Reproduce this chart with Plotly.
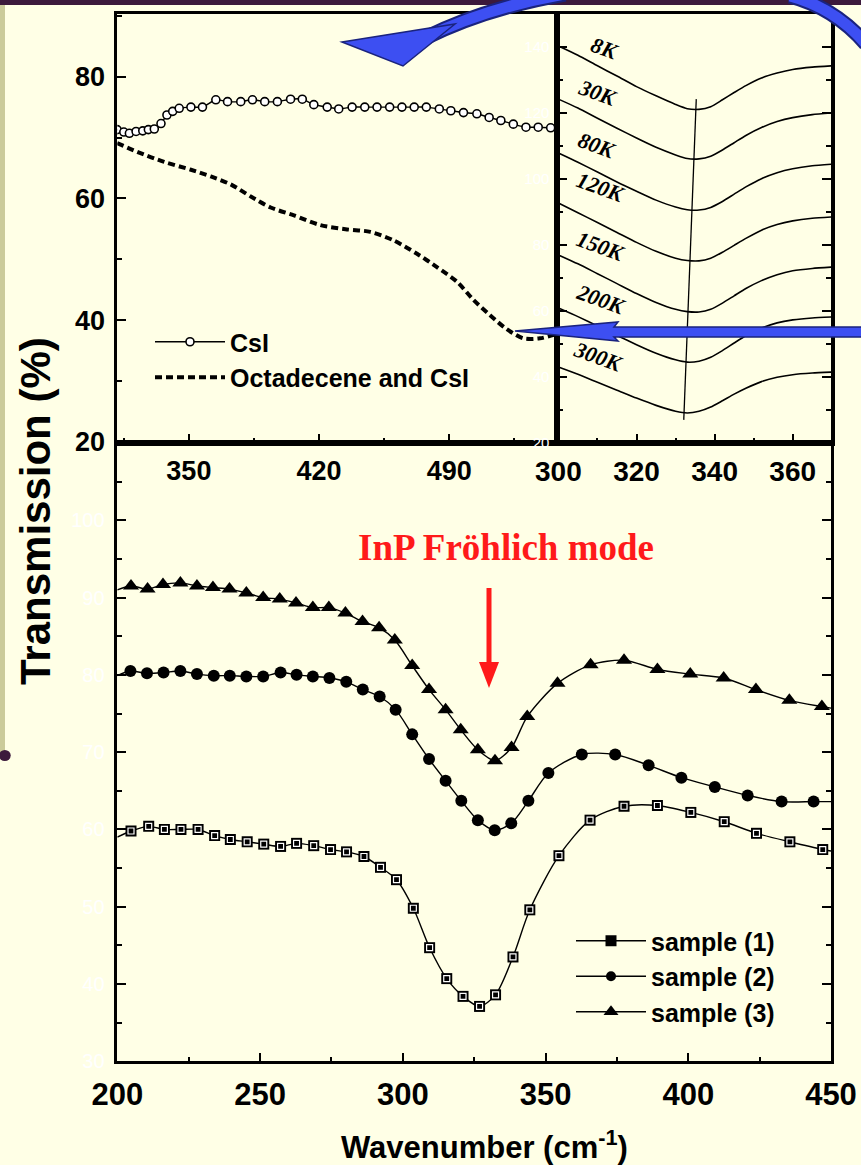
import plotly.graph_objects as go

W, H = 861, 1165
BG = "#FFFFE6"
SANS = "Liberation Sans, Arial, sans-serif"
SERIF = "Liberation Serif, Times New Roman, serif"

# ---------------- bottom panel: samples ----------------
s1_x = [200, 204.8, 211.0, 216.5, 222.3, 228.3, 234.1, 239.6, 245.5, 251.3, 257.2, 262.8, 268.8, 274.7, 280.3,
        286.4, 292.2, 297.8, 303.7, 309.4, 315.4, 321.1, 326.9, 332.5, 338.6, 344.5, 354.7, 365.6, 377.5, 389.2,
        400.9, 412.6, 423.9, 435.6, 447.1, 450]
s1_y = [59.0, 59.8, 60.4, 60.0, 60.0, 60.0, 59.2, 58.7, 58.4, 58.1, 57.8, 58.2, 57.9, 57.4, 57.1,
        56.5, 55.1, 53.5, 49.8, 44.7, 40.7, 38.4, 37.1, 38.6, 43.5, 49.6, 56.6, 61.2, 63.0, 63.1,
        62.2, 61.0, 59.5, 58.4, 57.4, 57.2]
s2_x = [200, 204.6, 210.4, 216.2, 222.1, 227.9, 233.8, 239.4, 245.2, 251.1, 257.2, 262.8, 268.5, 274.3, 280.2,
        286.0, 291.9, 297.5, 303.3, 309.2, 315.0, 320.5, 326.3, 332.2, 338.0, 344.0, 351.0, 362.7, 374.4, 386.1,
        397.6, 409.3, 420.8, 432.7, 443.9, 450]
s2_y = [79.9, 80.5, 80.2, 80.3, 80.5, 80.1, 79.9, 79.9, 79.8, 79.8, 80.3, 80.0, 79.8, 79.6, 79.1,
        78.1, 77.2, 75.5, 72.3, 69.1, 66.3, 63.7, 61.2, 59.9, 60.8, 63.7, 67.3, 69.7, 69.7, 68.3,
        66.7, 65.5, 64.4, 63.6, 63.6, 63.6]
s3_x = [200, 204.8, 210.6, 216.0, 222.1, 227.9, 233.5, 239.3, 245.2, 251.1, 256.9, 262.6, 268.5, 274.1, 279.9,
        285.9, 291.7, 297.2, 303.3, 309.2, 315.0, 320.3, 326.3, 332.3, 338.1, 343.6, 354.2, 365.8, 377.5, 389.2,
        400.7, 412.4, 423.7, 435.4, 446.8, 450]
s3_y = [91.0, 91.5, 91.1, 91.7, 91.9, 91.5, 91.3, 91.1, 90.6, 90.0, 89.8, 89.3, 88.7, 88.7, 88.0,
        86.9, 86.1, 84.5, 81.2, 78.1, 75.5, 72.9, 70.3, 68.9, 70.6, 74.6, 78.9, 81.3, 81.9, 80.7,
        80.1, 79.6, 78.1, 76.7, 75.9, 75.7]
sample_names = ["sample (1)", "sample (2)", "sample (3)"]

# ---------------- top-left inset ----------------
csi_x = [311.4, 315.0, 318.0, 321.6, 325.2, 328.2, 331.4, 335.0, 338.2, 341.3, 344.8, 351.1, 357.3, 364.5,
         370.8, 377.9, 384.2, 390.8, 397.6, 404.7, 411.0, 417.2, 424.4, 430.6, 437.8, 444.6, 451.2, 458.0,
         464.6, 471.2, 477.7, 484.7, 490.9, 497.7, 504.9, 511.5, 517.8, 524.5, 531.3, 537.9, 544.6]
csi_y = [71.3, 70.9, 70.7, 71.0, 71.1, 71.3, 71.4, 72.3, 73.7, 74.3, 74.8, 75.0, 75.0, 76.2,
         75.9, 75.9, 76.2, 75.9, 75.9, 76.3, 76.3, 75.4, 75.0, 74.7, 75.0, 75.0, 75.0, 75.0,
         75.0, 75.0, 75.0, 74.7, 74.4, 74.1, 73.9, 73.3, 72.8, 72.2, 71.7, 71.7, 71.6]
oct_x = [311.4, 322.5, 336.7, 351.1, 361.8, 372.5, 383.3, 394.0, 406.5, 420.8, 435.1, 447.6, 460.1, 472.7,
         483.4, 494.2, 503.1, 512.0, 521.0, 529.9, 538.8, 547.8]
oct_y = [69.1, 67.6, 66.0, 64.7, 63.6, 62.3, 60.3, 58.5, 57.2, 55.6, 54.9, 54.5, 53.1, 50.9,
         48.7, 46.3, 43.3, 40.8, 38.5, 37.0, 37.0, 37.7]
inset_names = ["CsI", "Octadecene and CsI"]

# ---------------- top-right inset: temperatures ----------------
temp_x = [300, 305, 310, 315, 320, 325, 330, 333, 336, 339, 342, 345, 348, 352, 356, 360, 365, 370]
temp_labels = ["8K", "30K", "80K", "120K", "150K", "200K", "300K"]
temp_curves = [
    [140.3, 137.5, 134.3, 131.2, 128.0, 125.2, 122.6, 121.3, 121.1, 121.9, 124.0, 126.2, 128.3, 130.6, 132.1, 133.2, 133.9, 134.3],
    [124.2, 121.5, 118.4, 115.4, 112.4, 109.6, 107.3, 106.2, 106.1, 106.9, 108.8, 111.0, 113.2, 115.6, 117.4, 118.6, 119.5, 120.0],
    [107.9, 105.1, 102.1, 99.1, 96.3, 93.6, 91.5, 90.7, 90.6, 91.4, 93.2, 95.4, 97.6, 100.1, 101.9, 103.1, 104.0, 104.5],
    [92.7, 89.8, 86.8, 83.8, 80.8, 78.1, 76.0, 75.3, 75.2, 76.0, 77.8, 79.9, 82.0, 84.5, 86.2, 87.3, 88.1, 88.5],
    [77.0, 74.3, 71.3, 68.3, 65.3, 62.6, 60.5, 59.8, 59.7, 60.5, 62.4, 64.6, 66.8, 69.2, 71.0, 72.2, 72.9, 73.3],
    [60.9, 58.3, 55.5, 52.6, 49.8, 47.2, 45.2, 44.5, 44.8, 46.0, 48.0, 50.3, 52.5, 54.8, 56.4, 57.3, 57.9, 58.2],
    [43.0, 40.8, 38.4, 36.0, 33.6, 31.4, 29.6, 29.1, 29.6, 30.9, 32.8, 34.8, 36.6, 38.6, 39.9, 40.7, 41.2, 41.5],
]
temp_label_x = [311.9, 309.9, 309.9, 310.9, 310.9, 310.9, 310.1]
temp_label_y = [139.5, 126.1, 110.3, 97.3, 79.4, 63.6, 46.1]
guide_x = [335.3, 332.1]
guide_y = [124.2, 27.0]

fig = go.Figure()
LINE = dict(color="black", width=1.4, shape="spline", smoothing=0.8)

# bottom data
fig.add_trace(go.Scatter(x=s1_x, y=s1_y, mode="lines", line=LINE, showlegend=False, xaxis="x", yaxis="y"))
fig.add_trace(go.Scatter(x=s1_x[1:-1], y=s1_y[1:-1], mode="markers", showlegend=False, xaxis="x", yaxis="y",
                         marker=dict(symbol="square", size=11, color="black")))
fig.add_trace(go.Scatter(x=s1_x[1:-1], y=s1_y[1:-1], mode="markers", showlegend=False, xaxis="x", yaxis="y",
                         marker=dict(symbol="square-open", size=6, color="white", line=dict(width=1.2, color="white"))))
fig.add_trace(go.Scatter(x=s2_x, y=s2_y, mode="lines", line=LINE, showlegend=False, xaxis="x", yaxis="y"))
fig.add_trace(go.Scatter(x=s2_x[1:-1], y=s2_y[1:-1], mode="markers", showlegend=False, xaxis="x", yaxis="y",
                         marker=dict(symbol="circle", size=12, color="black")))
fig.add_trace(go.Scatter(x=s3_x, y=s3_y, mode="lines", line=LINE, showlegend=False, xaxis="x", yaxis="y"))
fig.add_trace(go.Scatter(x=s3_x[1:-1], y=s3_y[1:-1], mode="markers", showlegend=False, xaxis="x", yaxis="y",
                         marker=dict(symbol="triangle-up", size=14, color="black")))
# bottom legend entries
for name, sym, sz in zip(sample_names, ["square", "circle", "triangle-up"], [11, 10, 13]):
    fig.add_trace(go.Scatter(x=[None], y=[None], mode="lines+markers", name=name, legend="legend2",
                             line=dict(color="black", width=1.6), marker=dict(symbol=sym, size=sz, color="black"),
                             xaxis="x", yaxis="y"))

# top-left inset
fig.add_trace(go.Scatter(x=csi_x, y=csi_y, mode="lines+markers", name=inset_names[0], legend="legend",
                         line=dict(color="black", width=1.4, shape="spline", smoothing=0.6),
                         marker=dict(symbol="circle", size=8, color="white", line=dict(color="black", width=1.6)),
                         xaxis="x2", yaxis="y2"))
fig.add_trace(go.Scatter(x=oct_x, y=oct_y, mode="lines", name=inset_names[1], legend="legend",
                         line=dict(color="black", width=4, dash="7px,4px", shape="spline", smoothing=0.8),
                         xaxis="x2", yaxis="y2"))

# top-right inset
for yy in temp_curves:
    fig.add_trace(go.Scatter(x=temp_x, y=yy, mode="lines", showlegend=False,
                             line=dict(color="black", width=1.6, shape="spline", smoothing=0.6),
                             xaxis="x3", yaxis="y3"))
fig.add_trace(go.Scatter(x=guide_x, y=guide_y, mode="lines", showlegend=False,
                         line=dict(color="black", width=1.3), xaxis="x3", yaxis="y3"))

def pp(x, y):
    return f"{x / W:.5f},{1 - y / H:.5f}"

def poly(pts):
    return "M " + " L ".join(pp(x, y) for x, y in pts) + " Z"

shapes = []
# page decorations
shapes.append(dict(type="rect", xref="paper", yref="paper", layer="below",
                   x0=0, x1=1, y0=1 - 5 / H, y1=1, fillcolor="#3C1A3C", line=dict(width=0)))
shapes.append(dict(type="rect", xref="paper", yref="paper", layer="below",
                   x0=0, x1=5 / W, y0=1 - 752 / H, y1=1 - 5 / H, fillcolor="#CBCB9A", line=dict(width=0)))
shapes.append(dict(type="circle", xref="paper", yref="paper", layer="above",
                   x0=-1 / W, x1=10.7 / W, y0=1 - 761 / H, y1=1 - 750 / H, fillcolor="#3C1A3C", line=dict(width=0)))
# blue curved arrow (top)
BLUE, DBLUE = "#3D4FF2", "#1A237E"
for w, c in [(15, DBLUE), (11, BLUE)]:
    shapes.append(dict(type="path", xref="paper", yref="paper", layer="above",
                       path=f"M {pp(425, 38)} Q {pp(485, 8)} {pp(565, -6)}",
                       line=dict(color=c, width=w), fillcolor="rgba(0,0,0,0)"))
    shapes.append(dict(type="path", xref="paper", yref="paper", layer="above",
                       path=f"M {pp(790, -4)} Q {pp(835, 8)} {pp(866, 44)}",
                       line=dict(color=c, width=w), fillcolor="rgba(0,0,0,0)"))
shapes.append(dict(type="path", xref="paper", yref="paper", layer="above",
                   path=poly([(342, 42), (455, 24), (403, 66)]), fillcolor=BLUE, line=dict(color=DBLUE, width=1.5)))
# blue horizontal arrow
shapes.append(dict(type="path", xref="paper", yref="paper", layer="above",
                   path=poly([(515, 331), (618, 322), (614, 327), (870, 327), (870, 337), (614, 337), (618, 341)]),
                   fillcolor=BLUE, line=dict(color=DBLUE, width=1.5)))
# red arrow
shapes.append(dict(type="line", xref="paper", yref="paper", layer="above",
                   x0=489 / W, x1=489 / W, y0=1 - 588 / H, y1=1 - 664 / H, line=dict(color="#FF1A1A", width=5)))
shapes.append(dict(type="path", xref="paper", yref="paper", layer="above",
                   path=poly([(479, 662), (499, 662), (489, 688)]), fillcolor="#FF1A1A", line=dict(width=0)))

annotations = [
    dict(text="InP Fröhlich mode", x=506 / W, y=1 - 547 / H, xref="paper", yref="paper", showarrow=False,
         xanchor="center", yanchor="middle",
         font=dict(family=SERIF, size=37, color="#FF1A1A", weight="bold")),
    dict(text="Transmission (%)", x=35 / W, y=1 - 511 / H, xref="paper", yref="paper", showarrow=False,
         xanchor="center", yanchor="middle",
         textangle=-90, font=dict(family=SANS, size=42, color="black", weight="bold")),
    dict(text="Wavenumber (cm<sup>-1</sup>)", x=484 / W, y=1 - 1145 / H, xref="paper", yref="paper",
         xanchor="center", yanchor="middle",
         showarrow=False, font=dict(family=SANS, size=31, color="black", weight="bold")),
]
for t, lx, ly in zip(temp_labels, temp_label_x, temp_label_y):
    annotations.append(dict(text=t, x=lx, y=ly, xref="x3", yref="y3", showarrow=False, textangle=20,
                            xanchor="center", yanchor="middle",
                            font=dict(family=SERIF, size=22, color="black", weight="bold", style="italic")))

AX = dict(showline=True, linecolor="black", linewidth=2.5, ticks="inside", tickcolor="black", tickwidth=2,
          ticklen=9, showgrid=False, zeroline=False, automargin=False)
MINOR = dict(ticks="inside", ticklen=5, tickwidth=2, tickcolor="black", showgrid=False)
X0, XL, XM, XR = 117.3 / W, 557 / W, 558.4 / W, 831 / W
YB, YM, YT = 1 - 1061.3 / H, 1 - 443 / H, 1 - 14 / H

fig.update_layout(
    template="none",
    width=W, height=H, margin=dict(l=0, r=0, t=0, b=0, pad=0),
    paper_bgcolor=BG, plot_bgcolor=BG,
    xaxis=dict(AX, domain=[X0, XR], range=[200, 450], anchor="y", mirror=True, tickvals=[200, 250, 300, 350, 400, 450],
               minor=dict(MINOR, dtick=25, tick0=200),
               tickfont=dict(family=SANS, size=31, color="black", weight="bold"), ticklabelstandoff=4),
    yaxis=dict(AX, domain=[YB, YM], range=[30, 110], anchor="x", mirror="ticks",
               tickvals=[30, 40, 50, 60, 70, 80, 90, 100],
               minor=dict(MINOR, dtick=5, tick0=30),
               tickfont=dict(family=SANS, size=20, color="white"), ticklabelstandoff=6),
    xaxis2=dict(AX, domain=[X0, XL], range=[311.5, 548], anchor="y2", mirror=True, tickvals=[350, 420, 490],
                minor=dict(MINOR, dtick=35, tick0=315),
                tickfont=dict(family=SANS, size=27, color="black", weight="bold"), ticklabelstandoff=2),
    yaxis2=dict(AX, domain=[YM, YT], range=[19.8, 90.3], anchor="x2", mirror=True, tickvals=[20, 40, 60, 80],
                minor=dict(MINOR, dtick=10, tick0=20),
                tickfont=dict(family=SANS, size=27, color="black", weight="bold"), ticklabelstandoff=4),
    xaxis3=dict(AX, domain=[XM, XR], range=[300, 369.8], anchor="y3", mirror=True, tickvals=[300, 320, 340, 360],
                minor=dict(MINOR, dtick=10, tick0=300),
                tickfont=dict(family=SANS, size=28, color="black", weight="bold"), ticklabelstandoff=2),
    yaxis3=dict(AX, domain=[YM, YT], range=[20, 150], anchor="x3", mirror="ticks", linewidth=4,
                tickvals=[20, 40, 60, 80, 100, 120, 140],
                minor=dict(MINOR, dtick=10, tick0=20),
                tickfont=dict(family=SANS, size=15, color="white"), ticklabelstandoff=2),
    legend=dict(x=150 / W, y=1 - 319 / H, xanchor="left", yanchor="top", bgcolor="rgba(0,0,0,0)", borderwidth=0,
                font=dict(family=SANS, size=25, color="black", weight="bold"), itemwidth=70),
    legend2=dict(x=571 / W, y=1 - 918 / H, xanchor="left", yanchor="top", bgcolor="rgba(0,0,0,0)", borderwidth=0,
                 font=dict(family=SANS, size=25, color="black", weight="bold"), itemwidth=70),
    shapes=shapes, annotations=annotations,
)

fig.write_html("out.html")
